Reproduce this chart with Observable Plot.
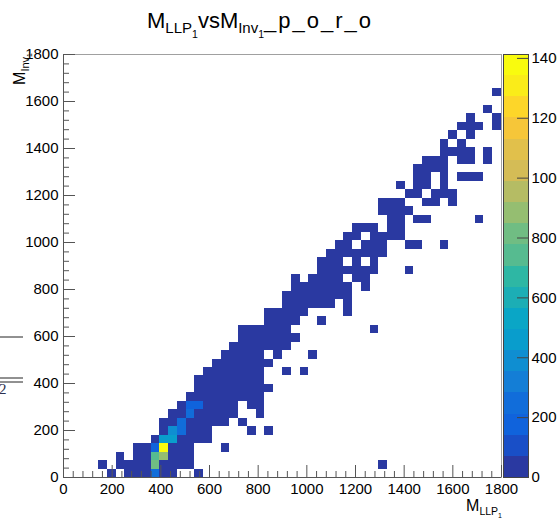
<!DOCTYPE html>
<html><head><meta charset="utf-8">
<script src="https://cdn.jsdelivr.net/npm/d3@7"></script>
<script src="https://cdn.jsdelivr.net/npm/@observablehq/plot@0.6"></script>
<style>
html,body{margin:0;padding:0;background:#fff;}
#chart{position:relative;width:557px;height:519px;overflow:hidden;}
#chart svg{position:absolute;left:0;top:0;}
</style></head><body><div id="chart"></div>
<script>
// ---------- data ----------
const binWidth = 36;                 // 50 bins over 0-1800 on both axes
const xRange = [0, 1800];
const yRange = [0, 1800];
const xTickLabels = [0, 200, 400, 600, 800, 1000, 1200, 1400, 1600, 1800];
const yTickLabels = [0, 200, 400, 600, 800, 1000, 1200, 1400, 1600, 1800];
const zTickLabels = [0, 200, 400, 600, 800, 1000, 1200, 1400];
const zMax = 1413;
// filled M_LLP bins (column index) for each M_Inv bin (row index, from the bottom)
const occupiedCols = [
  [5,7,8,9,10,11,12,15],
  [4,6,7,8,9,10,11,12,13,14,36],
  [6,8,9,10,11,12,13,14],
  [8,9,10,11,12,13,14,18],
  [10,11,12,13,14,15,16],
  [11,12,13,14,15,16,21,23],
  [11,12,13,14,15,16,17,18,20],
  [12,13,14,15,16,17,18,19,22],
  [13,14,15,16,17,18,19,21,22],
  [14,15,16,17,18,19,20,21,22],
  [15,16,17,18,19,20,21,22,23],
  [15,16,17,18,19,20,21,22],
  [16,17,18,19,20,21,22,25,27],
  [17,18,19,20,21,22,23],
  [18,19,20,21,22,24,28],
  [19,20,21,22,23,24,25],
  [20,21,22,23,24,25,26],
  [20,21,22,23,24,25,35],
  [23,24,25,26,29],
  [23,24,25,26,27,32],
  [25,26,27,28,29,30,32],
  [25,26,27,28,29,30,31,32],
  [26,27,28,29,30,31,32,34],
  [26,28,29,30,31,33,34],
  [29,30,31,32,33,34,35,39],
  [29,30,31,33,35],
  [30,31,32,33,34,35,36],
  [31,32,34,35,36,39,40,43],
  [32,33,35,36,37,38],
  [33,34,35,37,38],
  [37,38,40,41,47],
  [36,37,38,39],
  [36,37,38,41,42,44],
  [39,40,42,43,44],
  [38,40,41,43],
  [40,41,43,45,46,47],
  [40,41,42,43],
  [41,42,43,45,46,48],
  [43,44,45,46,48],
  [43,45],
  [44,46],
  [45,46,47,49],
  [46,49],
  [48],
  [],
  [49]
];
// bins brighter than the lowest colour band
const brightCols   = [10, 10, 10, 11, 11,   10, 11, 12, 12, 13, 13, 14, 14, 15];
const brightRows   = [ 0,  1,  2,  2,  3,    3,  4,  4,  5,  5,  6,  7,  8,  8];
const brightCounts = [240,780,720,880,1413, 180,480,470,400,230,260,220,150,150];
// every other filled bin reads as the lowest colour band (< 71 entries)
const lowCount = 25;

// ---------- build table ----------
const brightMap = new Map(brightCols.map((c, k) => [brightRows[k] + ":" + c, brightCounts[k]]));
const cells = [];
occupiedCols.forEach((cols, row) => cols.forEach(col => {
  const n = brightMap.get(row + ":" + col) ?? lowCount;
  cells.push({x1: col * binWidth, x2: (col + 1) * binWidth, y1: row * binWidth, y2: (row + 1) * binWidth, count: n});
}));

// ---------- ROOT kBird palette, 20 contour levels ----------
const nLevels = 20;
const birdStops = [0, .125, .25, .375, .5, .625, .75, .875, 1];
const birdR = [0.2082, 0.0592, 0.0780, 0.0232, 0.1802, 0.5301, 0.8186, 0.9956, 0.9764];
const birdG = [0.1664, 0.3599, 0.5041, 0.6419, 0.7178, 0.7492, 0.7328, 0.7862, 0.9832];
const birdB = [0.5293, 0.8684, 0.8385, 0.7914, 0.6425, 0.4662, 0.3499, 0.1968, 0.0539];
function bird(t) {
  let i = 0;
  while (i < birdStops.length - 2 && t > birdStops[i + 1]) i++;
  const f = (t - birdStops[i]) / (birdStops[i + 1] - birdStops[i]);
  const c = a => Math.round(255 * (a[i] + (a[i + 1] - a[i]) * f));
  return `rgb(${c(birdR)},${c(birdG)},${c(birdB)})`;
}
const bandColors = d3.range(nLevels).map(k => bird(Math.floor((k + 0.99) * 55 / nLevels) / 54));
const levels = d3.range(1, nLevels).map(k => k * zMax / nLevels);
const colorOpts = {type: "threshold", domain: levels, range: bandColors};
const paletteBands = d3.range(nLevels).map(k => ({lo: k * zMax / nLevels, hi: (k + 1) * zMax / nLevels, mid: (k + 0.5) * zMax / nLevels}));

const xMinor = d3.range(0, 1801, 40).filter(v => v % 200 !== 0);
const yMinor = xMinor;

// ---------- layout ----------
const W = 557, H = 519, mL = 63, mR = 56, mT = 54, mB = 42;
const fw = W - mL - mR, fh = H - mT - mB;
const FONT = "'Liberation Sans', Arial, Helvetica, sans-serif";
const axisColor = "#555";

const main = Plot.plot({
  width: W, height: H, marginLeft: mL, marginRight: mR, marginTop: mT, marginBottom: mB,
  style: {background: "none", fontFamily: FONT, overflow: "visible"},
  x: {domain: xRange},
  y: {domain: yRange},
  color: colorOpts,
  marks: [
    Plot.rect(cells, {x1: "x1", x2: "x2", y1: "y1", y2: "y2", fill: "count", shapeRendering: "crispEdges"}),
    Plot.frame({stroke: "#a0a0a0"}),
    Plot.ruleX(xMinor, {stroke: axisColor, insetTop: fh - 6}),
    Plot.ruleX(xTickLabels, {stroke: axisColor, insetTop: fh - 12}),
    Plot.ruleY(yMinor, {stroke: axisColor, insetRight: fw - 6}),
    Plot.ruleY(yTickLabels, {stroke: axisColor, insetRight: fw - 12}),
    Plot.ruleY([0], {stroke: axisColor}),
    Plot.ruleX([0], {stroke: axisColor}),
    Plot.axisX(xTickLabels, {tickSize: 0, tickPadding: 6, fontSize: 15, fill: "#000", label: null, tickFormat: "d"}),
    Plot.axisY(yTickLabels, {tickSize: 0, tickPadding: 5, fontSize: 15, fill: "#000", label: null, tickFormat: "d"})
  ]
});

const pal = Plot.plot({
  width: W, height: H, marginLeft: 503, marginRight: 29, marginTop: mT, marginBottom: mB,
  style: {background: "none", fontFamily: FONT, overflow: "visible"},
  x: {domain: [0, 1], axis: null},
  y: {domain: [0, zMax], axis: null},
  color: colorOpts,
  marks: [
    Plot.rect(paletteBands, {x1: 0, x2: 1, y1: "lo", y2: "hi", fill: "mid", shapeRendering: "crispEdges"}),
    Plot.frame({stroke: "#444"}),
    Plot.ruleY(zTickLabels, {stroke: "#444", insetLeft: 14}),
    Plot.text(zTickLabels, {x: 1, y: d => d, dx: 3, text: d => String(d), textAnchor: "start", fontSize: 15, fill: "#000"})
  ]
});

const chart = document.getElementById("chart");
chart.appendChild(main);
chart.appendChild(pal);

// ---------- titles and stray glyphs ----------
const svg = d3.select(main);
const title = svg.append("text").attr("x", 147).attr("y", 28).attr("text-anchor", "start")
  .style("font-family", FONT).style("font-size", "22px").attr("fill", "#000");
title.append("tspan").text("M");
title.append("tspan").attr("dy", 5).style("font-size", "15px").text("LLP");
title.append("tspan").attr("dy", 5).style("font-size", "10.5px").text("1");
title.append("tspan").attr("dy", -10).text("vsM");
title.append("tspan").attr("dy", 5).style("font-size", "15px").text("Inv");
title.append("tspan").attr("dy", 5).style("font-size", "10.5px").text("1");
title.append("tspan").attr("dy", -10).style("letter-spacing", "2px").text("_p_o_r_o");

const ytitle = svg.insert("text", ":first-child").attr("transform", "translate(25,53) rotate(-90)")
  .attr("text-anchor", "end").style("font-family", FONT).style("font-size", "16px").attr("fill", "#000");
ytitle.append("tspan").text("M");
ytitle.append("tspan").attr("dy", 4).style("font-size", "11px").text("Inv");
ytitle.append("tspan").attr("dy", 3).style("font-size", "7px").text("1");

const xtitle = svg.append("text").attr("x", 502).attr("y", 511).attr("text-anchor", "end")
  .style("font-family", FONT).style("font-size", "16px").attr("fill", "#000");
xtitle.append("tspan").text("M");
xtitle.append("tspan").attr("dy", 4).style("font-size", "10.5px").text("LLP");
xtitle.append("tspan").attr("dy", 3).style("font-size", "7px").text("1");

// leftover fraction strokes at the left edge of the canvas
svg.append("line").attr("x1", 0).attr("x2", 23).attr("y1", 337).attr("y2", 337).attr("stroke", "#222");
svg.append("line").attr("x1", 0).attr("x2", 23).attr("y1", 378).attr("y2", 378).attr("stroke", "#222");
svg.append("line").attr("x1", 0).attr("x2", 23).attr("y1", 382).attr("y2", 382).attr("stroke", "#222");
svg.append("text").attr("x", -1).attr("y", 394).attr("text-anchor", "start")
  .style("font-family", "'Liberation Serif', 'DejaVu Serif', serif")
  .style("font-size", "15px").attr("fill", "#2a3050").text("2");
</script></body></html>
